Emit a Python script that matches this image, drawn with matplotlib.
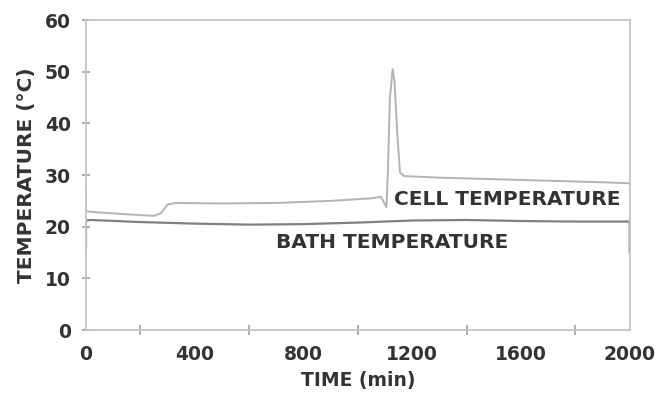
import matplotlib.pyplot as plt
from matplotlib.ticker import MultipleLocator

# valeurs
temps_cellule = [0, 0, 40, 150, 250, 275, 300, 330, 500, 700, 900, 1050,
                 1085, 1105, 1110, 1118, 1128, 1135, 1145, 1155, 1170,
                 1300, 1500, 1700, 1900, 2000]
temp_cellule = [27.5, 23.0, 22.8, 22.4, 22.1, 22.6, 24.3, 24.6, 24.5, 24.6, 25.0, 25.5,
                25.8, 23.8, 30.0, 45.0, 50.5, 48.0, 38.0, 30.5, 29.8,
                29.5, 29.2, 28.9, 28.6, 28.4]

temps_bain = [0, 0, 20, 200, 400, 600, 800, 1000, 1200, 1400, 1600, 1800, 2000, 2000]
temp_bain = [16.0, 21.2, 21.3, 20.9, 20.6, 20.4, 20.5, 20.8, 21.2, 21.3, 21.1, 21.0, 21.0, 15.0]

xticks = [0, 400, 800, 1200, 1600, 2000]
yticks = [0, 10, 20, 30, 40, 50, 60]

texte = "#333333"

fig = plt.figure(figsize=(6.58, 3.94), dpi=100)
ax = fig.add_axes([0.1307, 0.1624, 0.8263, 0.7866])

ax.plot(temps_cellule, temp_cellule, color="#b4b4b4", lw=1.4)
ax.plot(temps_bain, temp_bain, color="#808080", lw=1.6)

ax.set_xlim(0, 2000)
ax.set_ylim(0, 60)
ax.set_xticks(xticks)
ax.set_yticks(yticks)
ax.xaxis.set_minor_locator(MultipleLocator(200))

for s in ax.spines.values():
    s.set_color("#c4c4c4")
    s.set_linewidth(1.3)

ax.tick_params(which="both", direction="inout", color="#a0a0a0", width=1.2)
ax.tick_params(axis="x", which="major", length=0, pad=11)
ax.tick_params(axis="x", which="minor", length=7)
ax.tick_params(axis="y", which="major", length=6, pad=8)
for lab in ax.get_xticklabels() + ax.get_yticklabels():
    lab.set_fontsize(13.5)
    lab.set_fontweight("bold")
    lab.set_color(texte)

ax.set_xlabel("TIME (min)", fontsize=13.5, fontweight="bold", color=texte, labelpad=5)
ax.set_ylabel("TEMPERATURE (°C)", fontsize=14.5, fontweight="bold", color=texte, labelpad=6)

ax.text(1132, 25.2, "CELL TEMPERATURE", fontsize=14.5, color=texte,
        fontweight="semibold", va="center", ha="left")
ax.text(700, 16.9, "BATH TEMPERATURE", fontsize=14.5, color=texte,
        fontweight="semibold", va="center", ha="left")

fig.savefig("out.png", dpi=100)
